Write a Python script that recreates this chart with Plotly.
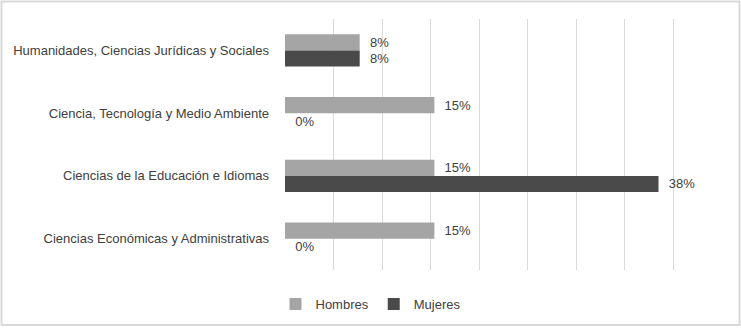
import plotly.graph_objects as go

categories = [
    "Humanidades, Ciencias Jurídicas y Sociales",
    "Ciencia, Tecnología y Medio Ambiente",
    "Ciencias de la Educación e Idiomas",
    "Ciencias Económicas y Administrativas",
]
hombres = [1/13, 2/13, 2/13, 2/13]
mujeres = [1/13, 0.0, 5/13, 0.0]
series_names = ["Hombres", "Mujeres"]

W, H = 741, 328
ml, mr, mt, mb = 285, 19, 19, 58
pw, ph = W - ml - mr, H - mt - mb

FONT = "Liberation Sans"
TXT = "#404040"

def labels(vals):
    return ["\u00a0\u00a0%d%%" % round(v * 100) for v in vals]

fig = go.Figure()
fig.add_trace(go.Bar(
    y=categories, x=hombres, name=series_names[0], orientation="h",
    marker=dict(color="#a5a5a5", line=dict(width=0)),
    text=labels(hombres), textposition="outside", cliponaxis=False,
    textfont=dict(family=FONT, size=13, color=TXT),
))
fig.add_trace(go.Bar(
    y=categories, x=mujeres, name=series_names[1], orientation="h",
    marker=dict(color="#4a4a4a", line=dict(width=0)),
    text=labels(mujeres), textposition="outside", cliponaxis=False,
    textfont=dict(family=FONT, size=13, color=TXT),
))

fig.update_layout(
    width=W, height=H,
    margin=dict(l=ml, r=mr, t=mt, b=mb, pad=0, autoexpand=False),
    paper_bgcolor="white", plot_bgcolor="white",
    barmode="group", bargap=0.49, bargroupgap=0,
    font=dict(family=FONT, size=13, color=TXT),
    showlegend=True,
    legend=dict(orientation="h", xref="container", yref="container",
                x=0.5, xanchor="center", y=(H - 304) / H, yanchor="middle",
                font=dict(family=FONT, size=13, color=TXT),
                itemwidth=30, traceorder="normal", tracegroupgap=0),
    xaxis=dict(range=[0, 0.45], dtick=0.05, showticklabels=False,
               showgrid=True, gridcolor="#d9d9d9", gridwidth=1,
               zeroline=False, showline=False, fixedrange=True),
    yaxis=dict(autorange="reversed", showgrid=False, zeroline=False,
               showline=False, ticks="", ticklabelstandoff=15,
               tickfont=dict(family=FONT, size=13, color=TXT)),
    shapes=[dict(type="rect", xref="paper", yref="paper",
                 x0=(1.5 - ml) / pw, x1=(739.5 - ml) / pw,
                 y0=1 - (325 - mt) / ph, y1=1 - (1.5 - mt) / ph,
                 line=dict(color="#d9d9d9", width=2), layer="below")],
)

fig.write_html("out.html")
